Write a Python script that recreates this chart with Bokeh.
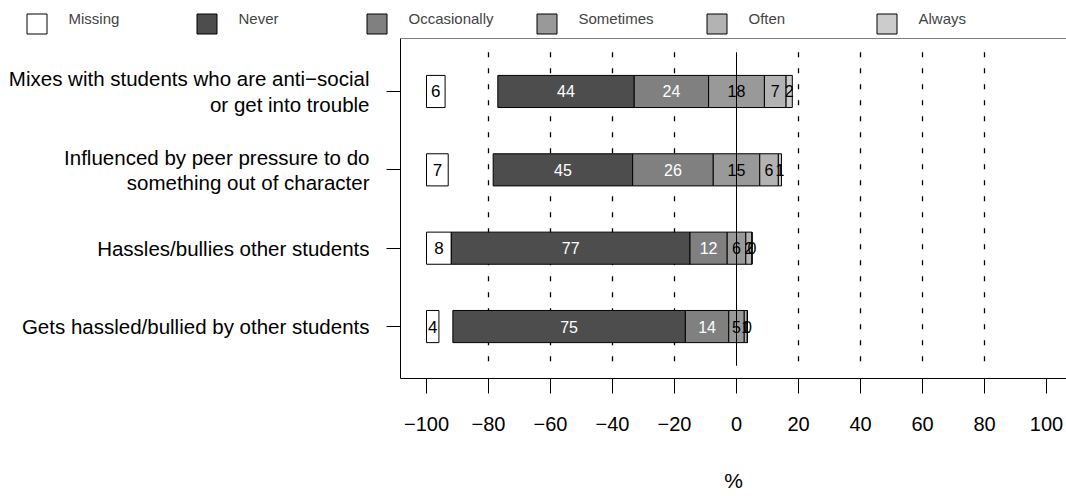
from bokeh.plotting import figure
from bokeh.models import Range1d, FixedTicker, Span, Legend, LegendItem, ColumnDataSource
from bokeh.core.properties import value
from bokeh.embed import file_html
from bokeh.resources import INLINE

# ---------------- data ----------------
questions = [
    "Mixes with students who are anti\u2212social\nor get into trouble",
    "Influenced by peer pressure to do\nsomething out of character",
    "Hassles/bullies other students",
    "Gets hassled/bullied by other students",
]
missing = [6, 7, 8, 4]
never = [44, 45, 77, 75]
occasionally = [24, 26, 12, 14]
sometimes = [18, 15, 6, 5]
often = [7, 6, 2, 1]
always = [2, 1, 0, 0]

levels = ["Never", "Occasionally", "Sometimes", "Often", "Always"]
level_colors = ["#4d4d4d", "#808080", "#999999", "#b3b3b3", "#cccccc"]
label_colors = ["white", "white", "black", "black", "black"]
x_ticks = [-100, -80, -60, -40, -20, 0, 20, 40, 60, 80, 100]
grid_x = [-80, -60, -40, -20, 20, 40, 60, 80]

FONT = "Liberation Sans"

n = len(questions)
ys = [n - i for i in range(n)]
series = [never, occasionally, sometimes, often, always]

# ---------------- main plot ----------------
p = figure(width=1066, height=459,
           x_range=Range1d(-108.39, 106.45), y_range=Range1d(0.337, 4.676),
           output_backend="svg", toolbar_location=None,
           min_border_left=400, min_border_right=0,
           min_border_top=1, min_border_bottom=118)
p.outline_line_color = None
p.xgrid.grid_line_color = None
p.ygrid.grid_line_color = None
p.background_fill_color = "white"
p.border_fill_color = "white"

# x axis
xa = p.xaxis[0]
xa.ticker = FixedTicker(ticks=x_ticks)
xa.major_label_overrides = {t: (("\u2212" + str(-t)) if t < 0 else str(t)) for t in x_ticks}
xa.major_label_text_font = FONT
xa.major_label_text_font_size = "20px"
xa.major_label_text_color = "black"
xa.major_tick_in = 0
xa.major_tick_out = 15
xa.minor_tick_line_color = None
xa.major_label_standoff = 23
xa.axis_label = "%"
xa.axis_label_text_font = FONT
xa.axis_label_text_font_size = "21px"
xa.axis_label_text_font_style = "normal"
xa.axis_label_text_color = "black"
xa.axis_label_standoff = 35
xa.axis_line_color = "black"
xa.major_tick_line_color = "black"

# y axis: question labels as tick labels
ya = p.yaxis[0]
ya.ticker = FixedTicker(ticks=ys)
ya.major_label_overrides = {y: q for y, q in zip(ys, questions)}
ya.major_label_text_font = FONT
ya.major_label_text_font_size = "20.5px"
ya.major_label_text_color = "black"
ya.major_label_text_line_height = 1.1
ya.major_label_text_align = "right"
ya.major_label_standoff = 17
ya.major_tick_in = 0
ya.major_tick_out = 14
ya.minor_tick_line_color = None
ya.axis_line_color = "black"
ya.major_tick_line_color = "black"

# top border
p.add_layout(Span(location=p.y_range.end, dimension="width", line_color="black", line_width=1))

# dashed reference lines
p.segment(x0=grid_x, y0=[n + 0.5] * len(grid_x), x1=grid_x, y1=[0.5] * len(grid_x),
          line_color="black", line_width=1.3, line_dash="5 11")

# missing boxes
m_src = ColumnDataSource(dict(y=ys, left=[-100] * n, right=[-100 + m for m in missing],
                              xc=[-100 + m / 2 for m in missing], t=[str(m) for m in missing]))
p.hbar(y="y", left="left", right="right", height=0.41, source=m_src,
       fill_color="white", line_color="black", line_width=1)

# diverging stacked bars
text_x, text_y, text_t, text_c = [], [], [], []
starts = [-(never[i] + occasionally[i] + sometimes[i] / 2) for i in range(n)]
cur = list(starts)
for k, (name, vals) in enumerate(zip(levels, series)):
    lefts = list(cur)
    rights = [cur[i] + vals[i] for i in range(n)]
    p.hbar(y=ys, left=lefts, right=rights, height=0.41,
           fill_color=level_colors[k], line_color="black", line_width=1)
    for i in range(n):
        text_x.append((lefts[i] + rights[i]) / 2)
        text_y.append(ys[i])
        text_t.append(str(vals[i]))
        text_c.append(label_colors[k])
    cur = rights

# zero line
p.segment(x0=[0], y0=[n + 0.5], x1=[0], y1=[0.5], line_color="black", line_width=1)

# segment labels
t_src = ColumnDataSource(dict(x=text_x, y=text_y, t=text_t, c=text_c))
p.text(x="x", y="y", text="t", source=t_src, text_color="c",
       text_align="center", text_baseline="middle",
       text_font=value(FONT), text_font_size="16px")
p.text(x="xc", y="y", text="t", source=m_src, text_color="black",
       text_align="center", text_baseline="middle",
       text_font=value(FONT), text_font_size="17px")

# ---------------- legend strip (separate root, full-width frame) ----------------
leg = figure(width=1066, height=37, x_range=Range1d(0, 1), y_range=Range1d(0, 1),
             output_backend="svg", toolbar_location=None, min_border=0,
             min_border_left=0, min_border_right=0, min_border_top=0, min_border_bottom=0,
             x_axis_location=None, y_axis_location=None)
leg.outline_line_color = None
leg.xgrid.grid_line_color = None
leg.ygrid.grid_line_color = None

leg_names = ["Missing"] + levels
leg_colors = ["white"] + level_colors
box_items, text_items = [], []
for name, c in zip(leg_names, leg_colors):
    # proxy renderers for the legend entries (kept outside the visible range)
    r_box = leg.hbar(y=[-5], left=[0], right=[1], height=1, fill_color=c,
                     line_color="black", line_width=1)
    r_txt = leg.hbar(y=[-5], left=[0], right=[1], height=1, fill_alpha=0, line_alpha=0)
    box_items.append(LegendItem(label=" ", renderers=[r_box]))
    text_items.append(LegendItem(label=name, renderers=[r_txt]))

common = dict(orientation="horizontal", glyph_width=25, glyph_height=25,
              label_standoff=20, label_width=125, spacing=0, padding=0, margin=0,
              border_line_color=None, background_fill_alpha=0,
              label_text_font=FONT, label_text_font_size="15px")
leg.add_layout(Legend(items=box_items, location=(23.5, 1.5), **common))
leg.add_layout(Legend(items=text_items, location=(23.5, 6.5), **common))

open("out.html", "w").write(file_html([leg, p], INLINE))
